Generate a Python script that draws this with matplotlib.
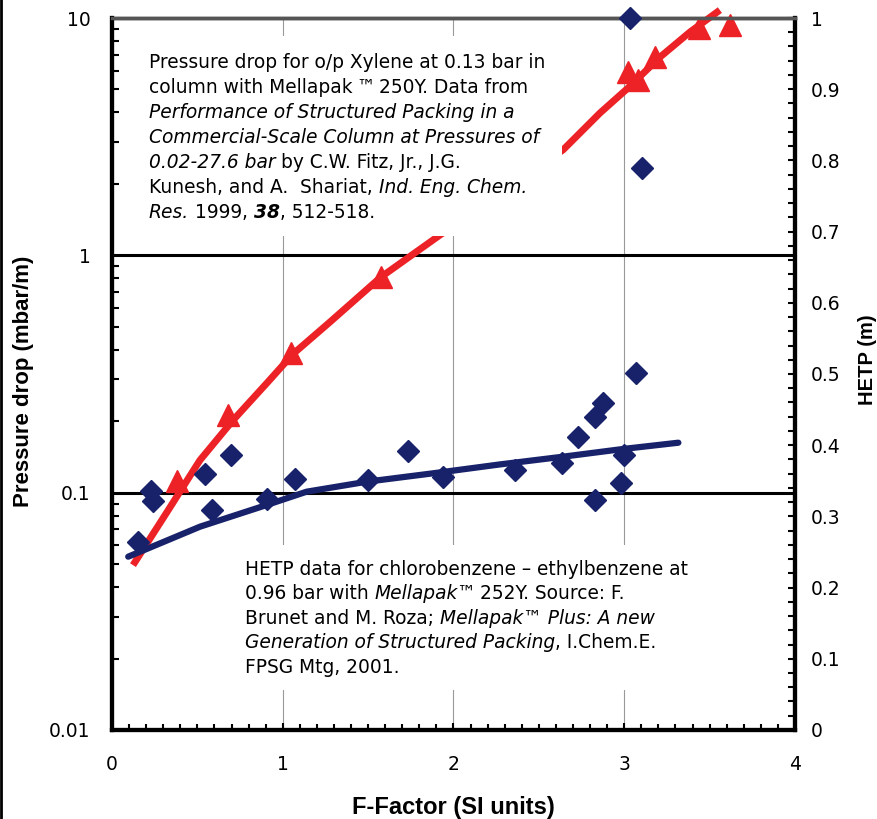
import matplotlib
matplotlib.use("Agg")
import matplotlib.pyplot as plt
from matplotlib.lines import Line2D
from matplotlib.patches import Rectangle
from matplotlib.ticker import MultipleLocator, FixedLocator, FixedFormatter, LogLocator, NullFormatter, FuncFormatter

plt.rcParams['font.family'] = ['DejaVu Sans']

# Pressure drop data (o/p Xylene), mbar/m
dp_f = [0.38, 0.68, 1.05, 1.575, 3.02, 3.08, 3.18, 3.44, 3.62]
dp_val = [0.112, 0.212, 0.387, 0.81, 5.9, 5.5, 6.85, 9.1, 9.3]

# Pressure drop trend line
dp_fit_f = [0.123, 0.322, 0.515, 0.709, 0.908, 1.06, 1.277, 1.575, 1.921, 2.641, 2.858, 3.022, 3.21, 3.385, 3.56]
dp_fit_val = [0.0495, 0.0828, 0.137, 0.202, 0.29, 0.384, 0.524, 0.81, 1.218, 2.78, 3.98, 5.07, 6.85, 8.73, 10.8]

# HETP data (chlorobenzene - ethylbenzene), m
hetp_f = [0.154, 0.228, 0.240, 0.545, 0.584, 0.695, 0.906, 1.072, 1.501, 1.735, 1.940,
          2.360, 2.637, 2.727, 2.829, 2.877, 3.067, 3.000, 2.981, 2.829, 3.034, 3.104]
hetp_val = [0.2645, 0.335, 0.321, 0.360, 0.309, 0.386, 0.324, 0.3525, 0.351, 0.392, 0.355,
            0.365, 0.375, 0.412, 0.439, 0.459, 0.501, 0.386, 0.3465, 0.323, 1.0, 0.789]

# HETP trend line
hetp_fit_f = [0.095, 0.515, 0.906, 1.14, 1.492, 1.88, 2.272, 2.643, 2.994, 3.317]
hetp_fit_val = [0.2434, 0.2855, 0.316, 0.3347, 0.3487, 0.3605, 0.373, 0.3839, 0.3947, 0.4035]

red = '#EC2227'
navy = '#18226B'
label_font = ['Liberation Sans', 'DejaVu Sans']

fig = plt.figure(figsize=(8.77, 8.19), dpi=100)
ax = fig.add_axes([0.1277, 0.1087, 0.7788, 0.8693])
ax2 = ax.twinx()

# left axis (log)
ax.set_xlim(0, 4)
ax.set_yscale('log')
ax.set_ylim(0.01, 10)
ax.yaxis.set_major_locator(FixedLocator([0.01, 0.1, 1, 10]))
ax.yaxis.set_major_formatter(FixedFormatter(['0.01', '0.1', '1', '10']))
ax.yaxis.set_minor_locator(LogLocator(base=10, subs=range(2, 10)))
ax.yaxis.set_minor_formatter(NullFormatter())
ax.xaxis.set_major_locator(MultipleLocator(1))
ax.xaxis.set_minor_locator(MultipleLocator(0.1))
ax.grid(True, axis='y', which='major', color='black', lw=2.2)
ax.grid(True, axis='x', which='major', color='#999999', lw=0.8)
ax.tick_params(axis='both', which='both', direction='in', labelsize=13.5)
ax.tick_params(axis='y', which='major', length=0, pad=15.5)
ax.tick_params(axis='y', which='minor', length=5, width=1.5)
ax.tick_params(axis='x', which='major', length=5, width=1.5, pad=18)
ax.tick_params(axis='x', which='minor', length=4, width=1.5)

# right axis (HETP)
ax2.set_ylim(0, 1)
ax2.yaxis.set_major_locator(MultipleLocator(0.1))
ax2.yaxis.set_minor_locator(MultipleLocator(0.02))
ax2.yaxis.set_major_formatter(FuncFormatter(lambda v, p: '%g' % round(v, 1)))
ax2.tick_params(axis='y', which='both', direction='in', labelsize=13.5, width=1.5, length=5)
ax2.tick_params(axis='y', which='major', pad=11.5)

for a in (ax, ax2):
    for s in ['left', 'right', 'bottom']:
        a.spines[s].set_linewidth(3)
        a.spines[s].set_color('black')
    a.spines['top'].set_linewidth(2.5)
    a.spines['top'].set_color('#555555')

ax.set_xlabel('F-Factor (SI units)', fontsize=17, fontweight='bold', family=label_font, va='top')
ax.xaxis.set_label_coords(0.5, -0.093)
ax.set_ylabel('Pressure drop (mbar/m)', fontsize=16, fontweight='bold', family=label_font)
ax.yaxis.set_label_coords(-0.114, 0.49)
ax2.set_ylabel('HETP (m)', fontsize=14.5, fontweight='bold', family=label_font)
ax2.yaxis.set_label_coords(1.092, 0.52)

# lines and markers
ax.plot(dp_fit_f, dp_fit_val, color=red, lw=5, solid_capstyle='butt', zorder=3, clip_on=False)
ax.plot(dp_f, dp_val, ls='none', marker='^', ms=16, color=red, zorder=4, clip_on=False)
ax2.plot(hetp_fit_f, hetp_fit_val, color=navy, lw=4.5, solid_capstyle='round', zorder=3)
ax2.plot(hetp_f, hetp_val, ls='none', marker='D', ms=11.5, color=navy, zorder=4, clip_on=False)

# white text boxes
ax2.add_patch(Rectangle((0.019, 0.694), 0.640, 0.281, transform=ax2.transAxes,
                        facecolor='white', edgecolor='none', zorder=5))
ax2.add_patch(Rectangle((0.18, 0.056), 0.68, 0.204, transform=ax2.transAxes,
                        facecolor='white', edgecolor='none', zorder=5))

FS = 13.4
SP = 0.318 * FS  # width of a space
STYLES = {'n': dict(style='normal', weight='normal'),
          'i': dict(style='italic', weight='normal'),
          'bi': dict(style='italic', weight='bold')}


def draw_line(x, y, runs):
    prev = None
    for s, st, gap in runs:
        kw = dict(fontsize=FS, zorder=6, ha='left', **STYLES[st])
        if prev is None:
            prev = ax2.text(x, y, s, transform=ax2.transAxes, va='baseline', **kw)
        else:
            prev = ax2.annotate(s, xy=(1, 0), xycoords=prev, xytext=(gap, 0),
                                textcoords='offset points', va='bottom',
                                annotation_clip=False, **kw)


note1 = [
    [('Pressure drop for o/p Xylene at 0.13 bar in', 'n', 0)],
    [('column with Mellapak', 'n', 0), ('\u2122', 'i', 3), ('250Y. Data from', 'n', 3)],
    [('Performance of Structured Packing in a', 'i', 0)],
    [('Commercial-Scale Column at Pressures of', 'i', 0)],
    [('0.02-27.6 bar', 'i', 0), ('by C.W. Fitz, Jr., J.G.', 'n', SP)],
    [('Kunesh, and A.  Shariat,', 'n', 0), ('Ind. Eng. Chem.', 'i', SP)],
    [('Res.', 'i', 0), ('1999,', 'n', SP), ('38', 'bi', SP), (', 512-518.', 'n', 0)],
]
note2 = [
    [('HETP data for chlorobenzene \u2013 ethylbenzene at', 'n', 0)],
    [('0.96 bar with', 'n', 0), ('Mellapak\u2122', 'i', SP), ('252Y. Source: F.', 'n', 2)],
    [('Brunet and M. Roza;', 'n', 0), ('Mellapak\u2122 Plus: A new', 'i', SP)],
    [('Generation of Structured Packing', 'i', 0), (', I.Chem.E.', 'n', 0)],
    [('FPSG Mtg, 2001.', 'n', 0)],
]

# baselines in axes fraction
for k, runs in enumerate(note1):
    draw_line(0.054, (730 - 68 - 25.0 * k) / 712, runs)
for k, runs in enumerate(note2):
    draw_line(0.195, (730 - 575 - 24.5 * k) / 712, runs)

# left border of the figure
fig.add_artist(Line2D([0.001, 0.001], [0, 1], transform=fig.transFigure, color='black', lw=2))

plt.savefig('out.png', dpi=100)
